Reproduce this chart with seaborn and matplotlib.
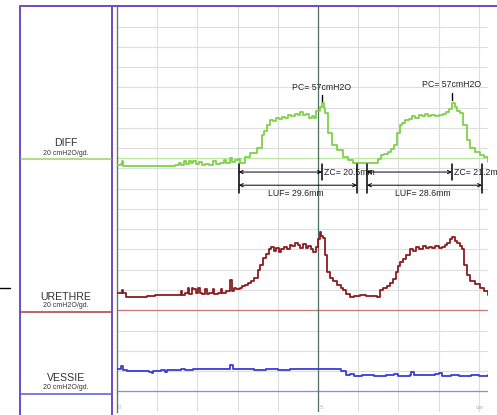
import numpy as np
import pandas as pd
import seaborn as sns
import matplotlib
matplotlib.use("Agg")
import matplotlib.pyplot as plt

# Channel traces, x in cm of withdrawal, pressures in cmH2O
diff_x = [0.00, 0.10, 0.13, 0.16, 0.25, 0.35, 0.60, 0.90, 1.20, 1.45, 1.55, 1.60, 1.66, 1.72,
          1.78, 1.84, 1.90, 1.96, 2.04, 2.12, 2.20, 2.30, 2.40, 2.46, 2.55, 2.66, 2.72, 2.80,
          2.86, 2.94, 3.00, 3.06, 3.18, 3.31, 3.48, 3.60, 3.66, 3.73, 3.80, 3.88, 3.96, 4.04,
          4.10, 4.18, 4.26, 4.34, 4.42, 4.50, 4.56, 4.62, 4.70, 4.78, 4.84, 4.90, 4.96, 5.04,
          5.10, 5.14, 5.17, 5.25, 5.35, 5.47, 5.62, 5.75, 5.87, 6.00, 6.20, 6.40, 6.50, 6.56,
          6.64, 6.74, 6.82, 6.90, 6.97, 7.04, 7.10, 7.16, 7.26, 7.34, 7.42, 7.50, 7.58, 7.66,
          7.74, 7.82, 7.92, 8.00, 8.10, 8.18, 8.26, 8.34, 8.41, 8.47, 8.53, 8.61, 8.70, 8.78,
          8.90, 9.03, 9.12, 9.23]
diff_y = [-7, -6, -3, -8, -8, -7.5, -8, -8, -7.5, -6.5, -5, -7, -3, -6,
          -2.5, -5, -3, -6, -4, -7, -6, -6.5, -3, -6, -5, -1.5, -5, 0.5,
          -4, -2, -1, -4.5, 1, 5, 10, 23, 27, 33, 38, 37, 40, 39,
          41, 40, 43, 42, 44, 43, 46, 43, 44, 40, 42, 40, 47, 51,
          55, 50, 45, 25, 13, 8, 1, -2, -4.5, -5, -5, -5, -1, 3,
          4, 6, 9, 13, 25, 33, 35, 38, 39, 42, 40, 43, 42, 44,
          42, 43, 42, 43, 44, 46, 49, 55, 51, 47, 45, 33, 18, 10,
          6, 3, 1, -4]

urethre_x = [0.00, 0.08, 0.12, 0.15, 0.22, 0.35, 0.55, 0.75, 0.95, 1.15, 1.35, 1.50, 1.58, 1.62,
             1.70, 1.76, 1.80, 1.86, 1.90, 1.96, 2.02, 2.06, 2.12, 2.20, 2.24, 2.30, 2.38, 2.42,
             2.52, 2.58, 2.62, 2.70, 2.80, 2.85, 2.90, 2.96, 3.06, 3.12, 3.18, 3.26, 3.34, 3.42,
             3.50, 3.56, 3.62, 3.70, 3.78, 3.84, 3.90, 3.96, 4.02, 4.08, 4.16, 4.22, 4.30, 4.36,
             4.44, 4.50, 4.56, 4.62, 4.70, 4.76, 4.82, 4.88, 4.94, 5.00, 5.04, 5.08, 5.12, 5.17,
             5.22, 5.30, 5.38, 5.47, 5.56, 5.62, 5.70, 5.80, 5.90, 6.04, 6.20, 6.35, 6.47, 6.54,
             6.62, 6.72, 6.80, 6.87, 6.93, 6.98, 7.04, 7.12, 7.20, 7.28, 7.36, 7.44, 7.52, 7.60,
             7.68, 7.76, 7.84, 7.92, 8.00, 8.08, 8.16, 8.22, 8.28, 8.34, 8.40, 8.46, 8.52, 8.58,
             8.64, 8.70, 8.78, 8.90, 9.02, 9.12, 9.23]
urethre_y = [17, 17, 20, 17, 13, 13, 13, 14, 15, 15, 15, 15, 19, 15,
             17, 22, 16, 22, 21, 17, 22, 17, 16, 21, 16, 17, 21, 16,
             17, 21, 17, 19, 30, 19, 22, 21, 22, 24, 25, 27, 29, 32,
             40, 45, 52, 56, 60, 62, 59, 61, 58, 60, 62, 60, 64, 63,
             66, 64, 61, 65, 61, 63, 60, 58, 62, 70, 77, 73, 71, 55,
             38, 32, 29, 25, 22, 20, 16, 13, 14, 15, 14, 14, 13, 20,
             22, 24, 27, 31, 38, 44, 48, 51, 55, 60, 59, 62, 60, 63,
             61, 62, 61, 63, 61, 62, 64, 66, 70, 72, 68, 66, 63, 60,
             45, 35, 29, 26, 22, 19, 15]

vessie_x = [0.00, 0.10, 0.16, 0.25, 0.50, 0.80, 0.86, 0.90, 1.10, 1.20, 1.25, 1.60, 1.70, 1.90,
            2.10, 2.40, 2.60, 2.82, 2.88, 3.00, 3.40, 3.70, 4.00, 4.30, 4.60, 4.90, 5.10, 5.40,
            5.58, 5.70, 5.80, 5.90, 6.10, 6.40, 6.70, 6.90, 7.00, 7.30, 7.32, 7.38, 7.60, 7.90,
            8.00, 8.08, 8.30, 8.50, 8.80, 9.00, 9.23]
vessie_y = [22, 25, 21, 20, 20, 19.5, 18, 20, 20.5, 19, 21, 21.5, 21, 22,
            21.5, 22, 22, 26, 22, 21.5, 21, 21.5, 21, 22, 21.5, 22, 21.5, 21.5,
            20, 16, 17.5, 15.5, 16, 15.5, 16, 17, 15.5, 16, 19, 16, 16.5, 17,
            18, 15.5, 16.5, 15, 16, 15.5, 16]

# measured events
luf_start = [3.03, 6.22]
pc_x = [5.10, 8.33]
luf_end = [5.97, 9.08]
pc_values = [57, 57]
zc_values = [20.5, 21.2]
luf_values = [29.6, 28.6]

channels = ["DIFF", "URETHRE", "VESSIE"]
offsets = {"DIFF": 250, "URETHRE": 100, "VESSIE": 20}
trace_colors = {"DIFF": "#7fd14a", "URETHRE": "#8a1c1f", "VESSIE": "#3b3bd6"}
ref_colors = {"DIFF": "#b9e8a0", "URETHRE": "#c47a7a", "VESSIE": "#8a8ae8"}
panel_colors = {"DIFF": "#93d863", "URETHRE": "#a53a3a", "VESSIE": "#5a5ad8"}

frames = []
for name, xs, ys in [("DIFF", diff_x, diff_y), ("URETHRE", urethre_x, urethre_y),
                     ("VESSIE", vessie_x, vessie_y)]:
    frames.append(pd.DataFrame({"cm": xs, "p": np.array(ys) + offsets[name], "channel": name}))
df = pd.concat(frames, ignore_index=True)

sns.set_style("white")
plt.rcParams["font.family"] = ["Liberation Sans", "DejaVu Sans"]

fig = plt.figure(figsize=(4.97, 4.15), dpi=100)

# main recording grid
ax = fig.add_axes([117 / 497, 3.5 / 415, 371 / 497, 405 / 415])
ax.set_facecolor("none")
ax.set_xlim(0, 371 / 40.2)
ax.set_ylim(0, 400)
ax.set_xticks(range(10))
ax.set_yticks(range(0, 401, 20))
ax.grid(True, color="#dedede", lw=0.8)
ax.tick_params(length=0, labelbottom=False, labelleft=False)
for s in ["top", "right", "bottom"]:
    ax.spines[s].set_visible(False)
ax.spines["left"].set_color("#5d7d74")
ax.spines["left"].set_linewidth(1.0)

for name in channels:
    ax.axhline(offsets[name], color=ref_colors[name], lw=0.9, zorder=1)
ax.axvline(5.0, color="#4f6f66", lw=0.9, zorder=1)

for name in channels:
    sns.lineplot(data=df[df.channel == name], x="cm", y="p", ax=ax, color=trace_colors[name],
                 lw=1.3, drawstyle="steps-post", estimator=None, sort=False, zorder=3)
ax.set_xlabel("")
ax.set_ylabel("")

# annotations on the DIFF channel
for i in range(2):
    ax.plot([pc_x[i], pc_x[i]], [306 + 2 * i, 313 + 2 * i], color="black", lw=1.0)
    ax.text(pc_x[i], 320 + 3 * i, f"PC= {pc_values[i]}cmH2O", fontsize=6.3,
            ha="center", va="center", color="#222222")
    for xb, top in [(luf_start[i], 244), (pc_x[i], 244), (luf_end[i], 244)]:
        bottom = 228.5 if xb == pc_x[i] else 215.5
        ax.plot([xb, xb], [bottom, top], color="black", lw=1.1, zorder=4)
    ax.annotate("", xy=(pc_x[i], 236.5), xytext=(luf_start[i], 236.5),
                arrowprops=dict(arrowstyle="<->", color="black", lw=0.7, mutation_scale=6,
                                shrinkA=0, shrinkB=0))
    ax.annotate("", xy=(luf_end[i], 223.5), xytext=(luf_start[i], 223.5),
                arrowprops=dict(arrowstyle="<->", color="black", lw=0.7, mutation_scale=6,
                                shrinkA=0, shrinkB=0))
    ax.text(pc_x[i] + 0.05, 236.5, f"ZC= {zc_values[i]}mm", fontsize=6.3,
            ha="left", va="center", color="#222222", zorder=2)
    ax.text((luf_start[i] + luf_end[i]) / 2 - 0.05, 215.5, f"LUF= {luf_values[i]}mm",
            fontsize=6.3, ha="center", va="center", color="#222222")

# scale labels along the bottom
for xv, lab in [(0.03, "0"), (5.03, "5"), (8.93, "cm")]:
    ax.text(xv, 1.0, lab, fontsize=4.5, color="#b4b4b4", ha="left", va="bottom")

# frame and channel label panel, drawn in pixel coordinates
bg = fig.add_axes([0, 0, 1, 1], zorder=5)
bg.set_xlim(0, 497)
bg.set_ylim(415, 0)
bg.axis("off")
purple = "#6b4dc4"
bg.plot([20, 497], [6.5, 6.5], color=purple, lw=1.4)
bg.plot([20, 20], [6.5, 415], color=purple, lw=1.4)
bg.plot([112, 112], [6.5, 415], color=purple, lw=1.4)
bg.plot([0, 10], [288, 288], color="black", lw=1.0)

panel = {"DIFF": (143, 153, 159), "URETHRE": (297, 305, 312), "VESSIE": (378, 387, 394)}
for name in channels:
    ty, sy, ly = panel[name]
    bg.text(66, ty, name, fontsize=7.6, ha="center", va="center", color="#333333")
    bg.text(66, sy, "20 cmH2O/gd.", fontsize=5.0, ha="center", va="center", color="#333333")
    bg.plot([21, 111], [ly, ly], color=panel_colors[name], lw=1.1)

fig.savefig("out.png", dpi=100)
